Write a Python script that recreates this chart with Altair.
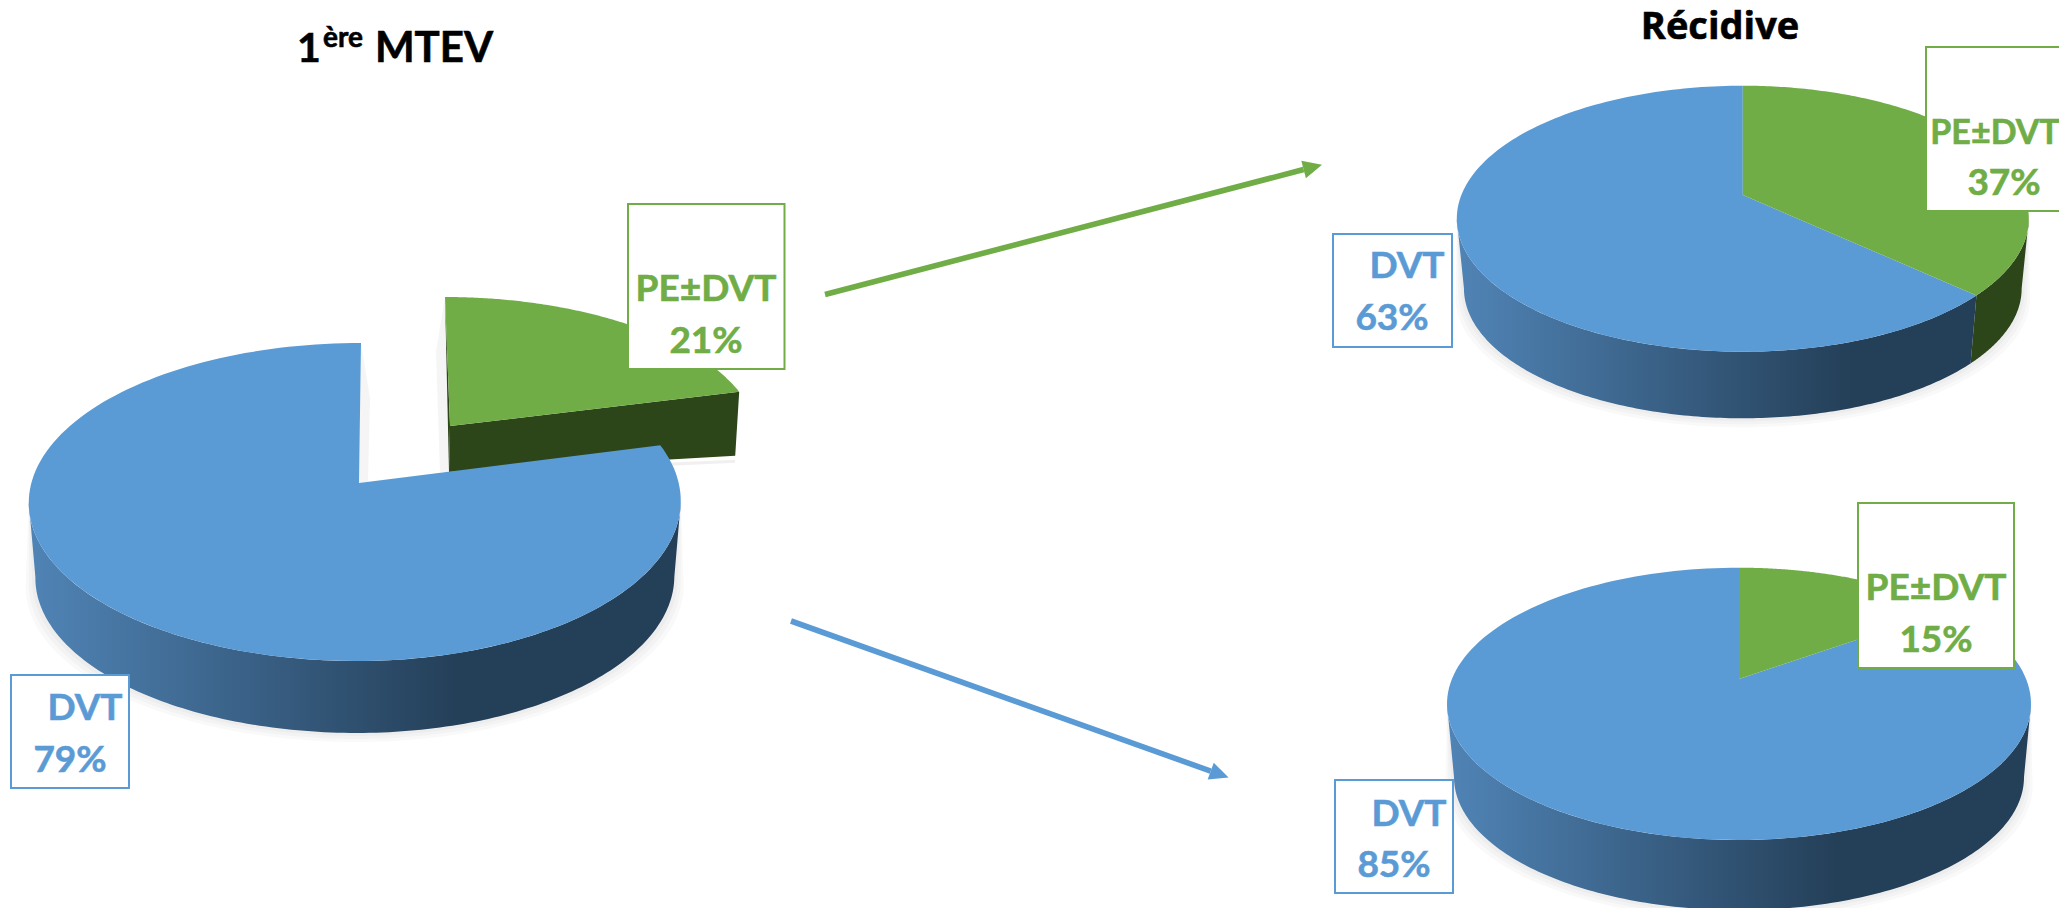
import math
import altair as alt
import pandas as pd

# --- chart values ---
first_shares = [79, 21]
relapse_pe_shares = [63, 37]
relapse_dvt_shares = [85, 15]
slice_names = ["DVT", "PE±DVT"]

BLUE = "#5B9BD5"
GREEN = "#70AD47"
DARK_GREEN = "#2C4519"
GRAD_A = "#5084B6"
GRAD_B = "#243F58"

W, H = 2067, 908
PW = W - 16
sx = alt.Scale(domain=[8, 8 + PW], range=[0, PW], nice=False, zero=False)
sy = alt.Scale(domain=[H, 8], range=[H - 8, 0], nice=False, zero=False)
X = lambda f: alt.X(f, type="quantitative", scale=sx, axis=None)
Y = lambda f: alt.Y(f, type="quantitative", scale=sy, axis=None)


def tilt(p):
    return (p["b"] + p["t"]) / (p["b"] - p["t"])


def edge_deg(p):
    return math.degrees(math.acos(-tilt(p)))


def pie_point(p, deg, lower=False):
    th = math.radians(deg)
    u, v = math.sin(th), math.cos(th)
    c = tilt(p)
    den = 1 + c * v
    R = (p["rr"] if u > 0 else p["rl"]) * math.sqrt(1 - c * c)
    x = R * u / den + p.get("skew", 0) * v
    y = p["t"] * (1 + c) * v / den
    if lower:
        x, y = x * p["k"], y * p["k"] + p["d"]
    return (p["ax"] + x, p["ay"] + y)


def arc(p, a, b, lower=False, n=160):
    return [pie_point(p, a + (b - a) * i / n, lower) for i in range(n + 1)]


def poly(points, fill, opacity=1.0):
    df = pd.DataFrame({"x": [q[0] for q in points], "y": [q[1] for q in points],
                       "i": list(range(len(points)))})
    return alt.Chart(df).mark_line(fill=fill, strokeWidth=0, opacity=opacity, clip=True).encode(
        x=X("x"), y=Y("y"), order=alt.Order("i", type="quantitative"))


def gradient(stop):
    return alt.Gradient(gradient="linear", x1=0, x2=1, y1=0, y2=0, stops=[
        alt.GradientStop(offset=0, color=GRAD_A),
        alt.GradientStop(offset=stop, color=GRAD_B),
        alt.GradientStop(offset=1, color=GRAD_B)])


def shadow(p):
    a, b = edge_deg(p), 360 - edge_deg(p)
    out = []
    for grow, dy in [(1.03, 9), (1.02, 6), (1.01, 3)]:
        pts = []
        for x, y in arc(p, a, b, True):
            pts.append((p["ax"] + (x - p["ax"]) * grow, y + dy))
        pts += arc(p, b, a)
        out.append(poly(pts, "#808080", 0.05))
    return out


def whole_pie(p, shares, stop):
    green_deg = shares[1] * 3.6
    e0, e1 = edge_deg(p), 360 - edge_deg(p)
    layers = shadow(p)
    if green_deg > e0:
        layers.append(poly(arc(p, e0, green_deg) + arc(p, green_deg, e0, True), DARK_GREEN))
    w0 = max(e0, green_deg)
    layers.append(poly(arc(p, w0, e1) + arc(p, e1, w0, True), gradient(stop)))
    centre = (p["ax"], p["ay"])
    layers.append(poly([centre] + arc(p, green_deg, 360), BLUE))
    layers.append(poly([centre] + arc(p, 0, green_deg), GREEN))
    return layers


def box(x0, x1, y0, y1, colour):
    df = pd.DataFrame({"x": [x0], "x2": [x1], "y": [y0], "y2": [y1]})
    return alt.Chart(df).mark_rect(fill="white", stroke=colour, strokeWidth=2, clip=True).encode(
        x=X("x"), x2="x2", y=Y("y"), y2="y2")


def label(txt, x, y, colour, size=37, font="Lato"):
    df = pd.DataFrame({"x": [x], "y": [y], "t": [txt]})
    return alt.Chart(df).mark_text(font=font, fontWeight="bold", fontSize=size, color=colour,
                                   stroke=colour, strokeWidth=0.6,
                                   align="center", baseline="alphabetic").encode(
        x=X("x"), y=Y("y"), text="t:N")


def arrow(start, tip, colour):
    ang = math.atan2(tip[1] - start[1], tip[0] - start[0])
    ca, sa = math.cos(ang), math.sin(ang)
    L, HW = 19, 9
    base = (tip[0] - L * ca, tip[1] - L * sa)
    hw = 2.8
    shaft = [(start[0] - hw * sa, start[1] + hw * ca), (base[0] - hw * sa, base[1] + hw * ca),
             (base[0] + hw * sa, base[1] - hw * ca), (start[0] + hw * sa, start[1] - hw * ca)]
    head = [tip, (base[0] - HW * sa, base[1] + HW * ca), (base[0] + HW * sa, base[1] - HW * ca)]
    return [poly(shaft, colour), poly(head, colour)]


# --- geometry of the three pies ---
P1 = dict(ax=359, ay=483, t=-140, b=178, rl=330, rr=322, k=0.98, d=75.5, skew=2)
P1G = dict(ax=450, ay=426, t=-129, b=155, rl=308, rr=308, k=1, d=46, skew=-5)
P2 = dict(ax=1742.8, ay=195, t=-109.3, b=156.7, rl=286, rr=286, k=0.975, d=70.5)
P3 = dict(ax=1739, ay=679, t=-111.3, b=161, rl=292, rr=292, k=0.976, d=74)

layers = []

# exploded slice of the first pie
g_deg = first_shares[1] * 3.6
g_apex = (P1G["ax"], P1G["ay"])
g_end = pie_point(P1G, g_deg)
g_top = pie_point(P1G, 0)
g_apex_low = (g_apex[0] - 1, g_apex[1] + 46)
g_end_low = (g_end[0] - 4, g_end[1] + 64)
layers.append(poly([(g_apex_low[0], g_apex_low[1]), (g_end_low[0], g_end_low[1] + 4),
                    (g_end_low[0], g_end_low[1] + 7), (g_apex_low[0], g_apex_low[1] + 4)], "#808080", 0.12))
# faint shadows beside the gap between the slices
layers.append(poly([(g_top[0] - 9, g_top[1] + 55), g_top, g_apex_low, (g_apex_low[0] - 9, g_apex_low[1])],
                   "#808080", 0.08))
m_top = pie_point(P1, 0)
layers.append(poly([m_top, (m_top[0] + 9, m_top[1] + 55), (P1["ax"] + 9, P1["ay"]), (P1["ax"], P1["ay"])],
                   "#808080", 0.08))
layers.append(poly([g_top, g_apex, g_apex_low], DARK_GREEN))
layers.append(poly([g_apex, g_end, g_end_low, g_apex_low], DARK_GREEN))
layers.append(poly([g_apex] + arc(P1G, 0, g_deg), GREEN))

# main part of the first pie
layers += shadow(P1)
e0, e1 = edge_deg(P1), 360 - edge_deg(P1)
layers.append(poly(arc(P1, e0, e1) + arc(P1, e1, e0, True), gradient(0.66)))
layers.append(poly([(P1["ax"], P1["ay"])] + arc(P1, g_deg, 360), BLUE))

# relapse pies
layers += whole_pie(P2, relapse_pe_shares, 0.76)
layers += whole_pie(P3, relapse_dvt_shares, 0.67)

# arrows
layers += arrow((825, 294.5), (1322, 164.7), GREEN)
layers += arrow((791, 621), (1228.6, 777.5), BLUE)

# labels
layers += [
    box(628, 784.5, 204, 369, GREEN),
    label(slice_names[1], 706, 301, GREEN),
    label(f"{first_shares[1]}%", 706, 353, GREEN),
    box(11, 129, 675, 788, BLUE),
    label(slice_names[0], 85, 720, BLUE),
    label(f"{first_shares[0]}%", 70, 772, BLUE),
    box(1926, 2090, 47, 211, GREEN),
    label(slice_names[1], 1995, 144, GREEN, 34),
    label(f"{relapse_pe_shares[1]}%", 2004, 195, GREEN),
    box(1333, 1452, 234, 347, BLUE),
    label(slice_names[0], 1407, 278, BLUE),
    label(f"{relapse_pe_shares[0]}%", 1392, 330, BLUE),
    box(1858, 2014, 503, 668, GREEN),
    label(slice_names[1], 1936, 600, GREEN),
    label(f"{relapse_dvt_shares[1]}%", 1936, 652, GREEN),
    box(1335, 1453, 780, 893, BLUE),
    label(slice_names[0], 1409, 826, BLUE),
    label(f"{relapse_dvt_shares[0]}%", 1394, 877, BLUE),
    label("1", 309, 62, "black", 41),
    label("ère", 343, 47, "black", 28),
    label("MTEV", 434, 62, "black", 42),
    label("Récidive", 1720, 38.5, "black", 38, "Open Sans"),
]

chart = alt.layer(*layers).properties(
    width=PW, height=H - 8, padding=0,
    autosize=alt.AutoSizeParams(type="none"),
).configure_view(stroke=None)

chart.save("out.html", embed_options={"renderer": "svg", "actions": False})
